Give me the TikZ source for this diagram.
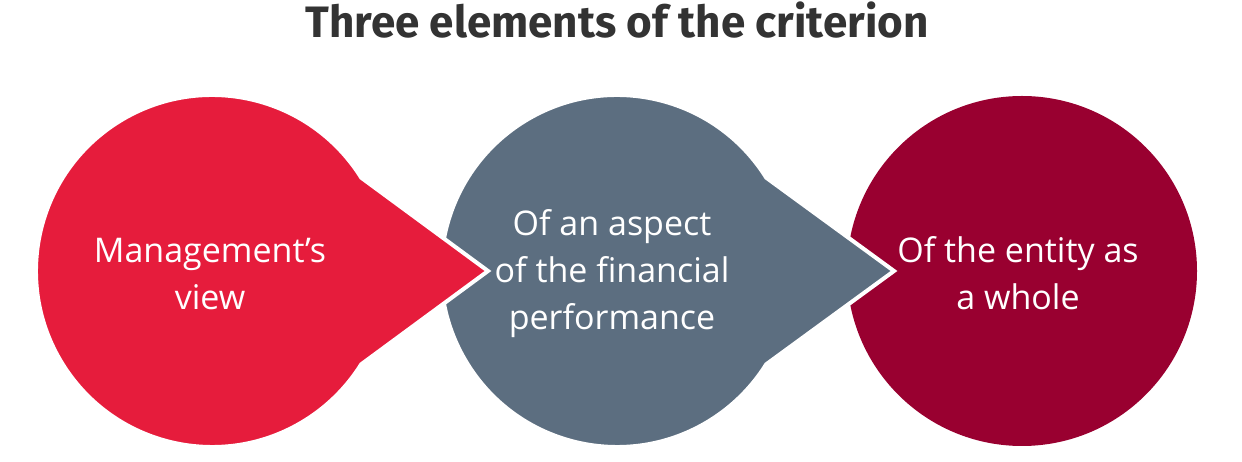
\documentclass[tikz,border=0pt]{standalone}
\usepackage{fontspec}
\usetikzlibrary{calc}
\setmainfont{Open Sans}
\newfontfamily\titlefont{Fira Sans}
\definecolor{cred}{HTML}{E61C3C}
\definecolor{cgrey}{HTML}{5C6E80}
\definecolor{cdark}{HTML}{990030}
\definecolor{ctitle}{HTML}{333333}
\tikzset{
  bubble/.style={draw=white, line width=4pt, line join=miter},
  label/.style={text=white, align=center, inner sep=0pt, anchor=base,
    font=\fontsize{34}{47}\selectfont},
}
\begin{document}
\begin{tikzpicture}[x=1pt,y=1pt]
\useasboundingbox (0,0) rectangle (1242,462);
% circle centres (y up: 462-271 = 191)
\coordinate (c1) at (212,191);
\coordinate (c2) at (617,191);
\coordinate (c3) at (1022,191);
\coordinate (t1) at (488,191);
\coordinate (t2) at (894,191);
% third circle
\fill[cdark] (c3) circle (175);
% second bubble
\filldraw[bubble, fill=cgrey] (t2) -- ($(c2)+(32:176)$) arc[start angle=32, end angle=328, radius=176] -- cycle;
% first bubble
\filldraw[bubble, fill=cred] (t1) -- ($(c1)+(32:176)$) arc[start angle=32, end angle=328, radius=176] -- cycle;
% texts (base = last line's baseline)
\node[label] (l1) at (210,152) {Management's\\view};
\node[label] (l2) at (612,132) {Of an aspect\\of the financial\\performance};
\node[label] (l3) at (1018,152) {Of the entity as\\a whole};
\node[anchor=base, inner sep=0pt, text=ctitle, font=\titlefont\bfseries\fontsize{44}{50}\selectfont] (title) at (617,424) {Three elements of the criterion};
\end{tikzpicture}
\end{document}
